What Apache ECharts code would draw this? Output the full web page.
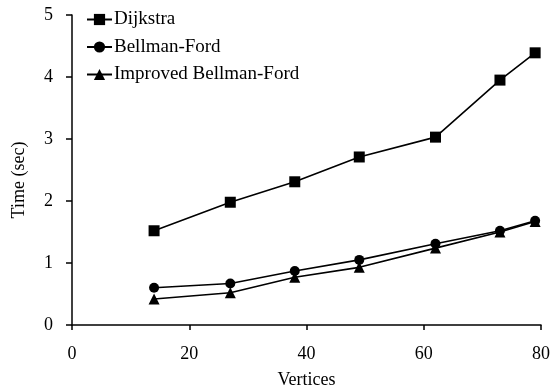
<!DOCTYPE html>
<html><head><meta charset="utf-8">
<script src="https://cdn.jsdelivr.net/npm/echarts@6/dist/echarts.min.js"></script>
<style>html,body{margin:0;padding:0;background:#fff}#c{width:552px;height:390px}</style>
</head><body><div id="c"></div>
<script>
const vertices = [14, 27, 38, 49, 62, 73, 79];
const dijkstra = [1.52, 1.98, 2.31, 2.71, 3.03, 3.95, 4.39];
const bellmanFord = [0.60, 0.67, 0.87, 1.05, 1.31, 1.52, 1.68];
const improvedBF = [0.42, 0.52, 0.77, 0.93, 1.24, 1.50, 1.67];
const seriesNames = ['Dijkstra', 'Bellman-Ford', 'Improved Bellman-Ford'];
const xTicks = [0, 20, 40, 60, 80];
const yTicks = [0, 1, 2, 3, 4, 5];

const font = 'Liberation Serif';
function pairs(ys){ return vertices.map((x,i)=>[x, ys[i]]); }
function mk(name, ys, symbol, size){
  return {
    name, type:'line', data: pairs(ys), symbol, symbolSize: size,
    lineStyle:{color:'#000', width:1.6}, itemStyle:{color:'#000'},
    emphasis:{disabled:true}, animation:false
  };
}
const chart = echarts.init(document.getElementById('c'));
chart.setOption({
  animation:false,
  textStyle:{fontFamily:font},
  grid:{left:72, right:11, top:15, bottom:65, containLabel:false, outerBoundsMode:'none'},
  legend:{
    orient:'vertical', left:86, top:10, padding:0, itemGap:8.5, itemWidth:25, itemHeight:14,
    textStyle:{fontFamily:font, fontSize:19, color:'#000', padding:[0,0,0,-3]},
    data: seriesNames
  },
  xAxis:{
    type:'value', min:xTicks[0], max:xTicks[xTicks.length-1], interval:20,
    name:'Vertices', nameLocation:'middle', nameGap:46,
    nameTextStyle:{fontFamily:font, fontSize:18, color:'#000'},
    axisLine:{lineStyle:{color:'#000', width:1.5}},
    axisTick:{show:true, length:5, lineStyle:{color:'#000', width:1.5}},
    axisLabel:{fontFamily:font, fontSize:18, color:'#000', margin:20},
    splitLine:{show:false}
  },
  yAxis:{
    type:'value', min:yTicks[0], max:yTicks[yTicks.length-1], interval:1,
    name:'Time (sec)', nameLocation:'middle', nameGap:44, nameRotate:90,
    nameTextStyle:{fontFamily:font, fontSize:18, color:'#000', padding:[0,20,0,0]},
    axisLine:{show:true, lineStyle:{color:'#000', width:1.5}},
    axisTick:{show:true, length:6, lineStyle:{color:'#000', width:1.5}},
    axisLabel:{fontFamily:font, fontSize:18, color:'#000', margin:19},
    splitLine:{show:false}
  },
  series:[
    mk(seriesNames[0], dijkstra, 'rect', 11),
    mk(seriesNames[1], bellmanFord, 'circle', 10),
    mk(seriesNames[2], improvedBF, 'triangle', 11)
  ]
});
</script></body></html>
